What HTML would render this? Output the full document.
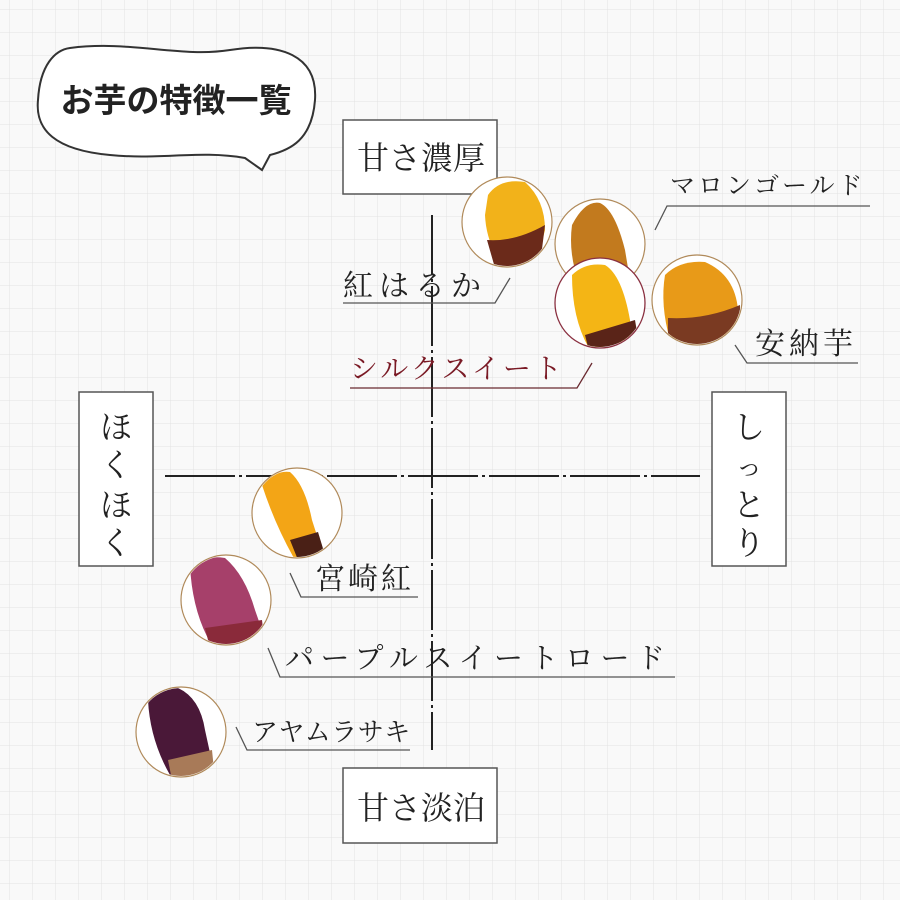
<!DOCTYPE html>
<html><head><meta charset="utf-8"><style>
html,body{margin:0;padding:0;background:#f8f8f8}
svg{display:block}
.s{font-family:"Liberation Serif","Noto Serif CJK SC","Noto Serif CJK JP",serif;fill:#222}
.g{font-family:"Liberation Sans","Noto Sans CJK JP",sans-serif;}
</style></head><body>
<svg width="900" height="900" viewBox="0 0 900 900" xmlns="http://www.w3.org/2000/svg">
<defs>
<pattern id="grid" width="23" height="23" patternUnits="userSpaceOnUse" x="10" y="10">
<rect width="23" height="23" fill="#f9f9f9"/>
<path d="M23 0V23M0 23H23" stroke="#e2e2e2" stroke-width="1" fill="none"/>
</pattern>
<clipPath id="c1"><circle cx="507" cy="222" r="44"/></clipPath>
<clipPath id="c2"><circle cx="600" cy="244" r="44"/></clipPath>
<clipPath id="c3"><circle cx="600" cy="303" r="44"/></clipPath>
<clipPath id="c4"><circle cx="697" cy="300" r="44"/></clipPath>
<clipPath id="c5"><circle cx="297" cy="513" r="44"/></clipPath>
<clipPath id="c6"><circle cx="226" cy="600" r="44"/></clipPath>
<clipPath id="c7"><circle cx="181" cy="732" r="44"/></clipPath>
</defs>
<rect width="900" height="900" fill="url(#grid)"/>

<!-- bubble -->
<path d="M70 48 C130 40 180 58 230 50 C280 42 318 55 315 100 C312 140 290 150 270 155 L262 170 L245 158 C200 150 160 160 110 155 C55 150 35 130 38 100 C40 65 55 50 70 48 Z" fill="#fff" stroke="#333" stroke-width="2"/>
<text x="176" y="112" text-anchor="middle" class="g" font-size="33" font-weight="bold" fill="#222">お芋の特徴一覧</text>

<!-- axes -->
<line x1="432" y1="215" x2="432" y2="750" stroke="#222" stroke-width="2" stroke-dasharray="60 4 3 4"/>
<line x1="165" y1="476" x2="700" y2="476" stroke="#222" stroke-width="2" stroke-dasharray="70 4 3 4"/>

<!-- boxes -->
<g fill="#fff" stroke="#555" stroke-width="1.5">
<rect x="343" y="120" width="154" height="74"/>
<rect x="343" y="768" width="154" height="75"/>
<rect x="79" y="392" width="74" height="174"/>
<rect x="712" y="392" width="74" height="174"/>
</g>
<text x="421" y="169" text-anchor="middle" class="s" font-size="32">甘さ濃厚</text>
<text x="421" y="819" text-anchor="middle" class="s" font-size="32">甘さ淡泊</text>
<g class="s" font-size="32" text-anchor="middle">
<text x="116" y="438">ほ</text><text x="116" y="476">く</text><text x="116" y="516">ほ</text><text x="116" y="554">く</text>
<text x="749" y="438">し</text><text x="749" y="476" font-size="26">っ</text><text x="749" y="516">と</text><text x="749" y="554">り</text>
</g>

<!-- circles with potatoes -->
<g stroke="#b08a5a" stroke-width="1.2" fill="#fff">
<circle cx="507" cy="222" r="45"/><circle cx="600" cy="244" r="45"/>
<circle cx="697" cy="300" r="45"/><circle cx="297" cy="513" r="45"/>
<circle cx="226" cy="600" r="45"/><circle cx="181" cy="732" r="45"/>
</g>
<g clip-path="url(#c1)"><path d="M488 195 Q500 178 525 182 Q545 200 545 230 L540 250 Q520 265 500 262 Q486 240 485 215Z" fill="#f2b21a"/><path d="M487 240 Q515 242 545 225 L540 265 L495 268Z" fill="#6b2a1a"/></g>
<g clip-path="url(#c2)"><path d="M572 225 Q585 200 600 203 Q615 210 625 250 L630 280 L580 285 Q568 255 572 225Z" fill="#c27a1e"/></g>
<circle cx="600" cy="303" r="45" fill="#fff" stroke="#8a3040" stroke-width="1.3"/>
<g clip-path="url(#c3)"><path d="M572 275 Q585 262 605 265 Q622 275 630 320 L630 340 L590 350 Q572 320 572 275Z" fill="#f4b515"/><path d="M585 335 L635 320 L640 350 L590 355Z" fill="#5a2418"/></g>
<g clip-path="url(#c4)"><path d="M665 275 Q680 260 705 262 Q735 275 738 310 L735 335 L670 340 Q660 305 665 275Z" fill="#e89a18"/><path d="M668 318 Q705 320 740 305 L740 345 L668 345Z" fill="#7a3a22"/></g>
<g clip-path="url(#c5)"><path d="M262 485 Q275 470 290 472 Q305 485 312 520 L320 545 L295 560 Q275 525 262 485Z" fill="#f3a516"/><path d="M290 540 L318 532 L325 555 L298 560Z" fill="#4a2016"/></g>
<g clip-path="url(#c6)"><path d="M190 565 Q205 555 225 558 Q245 575 255 610 L262 630 L210 642 Q192 610 190 565Z" fill="#a6406a"/><path d="M205 628 L262 620 L265 645 L210 648Z" fill="#8a2a3a"/></g>
<g clip-path="url(#c7)"><path d="M148 700 Q160 688 178 688 Q200 698 205 730 L212 762 L170 775 Q150 740 148 700Z" fill="#4a1838"/><path d="M168 760 L212 750 L215 780 L172 780Z" fill="#a87a58"/></g>

<!-- labels -->
<g fill="none" stroke="#555" stroke-width="1.3">
<path d="M655 230 L667 206 L870 206"/>
<path d="M510 278 L495 303 L343 303"/>
<path d="M592 363 L577 388 L350 388" stroke="#6a2a30"/>
<path d="M735 345 L747 363 L858 363"/>
<path d="M290 573 L301 597 L418 597"/>
<path d="M268 648 L280 677 L675 677"/>
<path d="M236 727 L247 750 L410 750"/>
</g>
<g class="s">
<text x="670" y="194" font-size="25" letter-spacing="3">マロンゴールド</text>
<text x="343" y="296" font-size="30" letter-spacing="6">紅はるか</text>
<text x="350" y="378" font-size="28" letter-spacing="3" style="fill:#7a1a25">シルクスイート</text>
<text x="755" y="354" font-size="30" letter-spacing="4">安納芋</text>
<text x="315" y="589" font-size="30" letter-spacing="3">宮崎紅</text>
<text x="285" y="668" font-size="29" letter-spacing="6.5">パープルスイートロード</text>
<text x="252" y="741" font-size="26" letter-spacing="0.5">アヤムラサキ</text>
</g>
</svg>
</body></html>
